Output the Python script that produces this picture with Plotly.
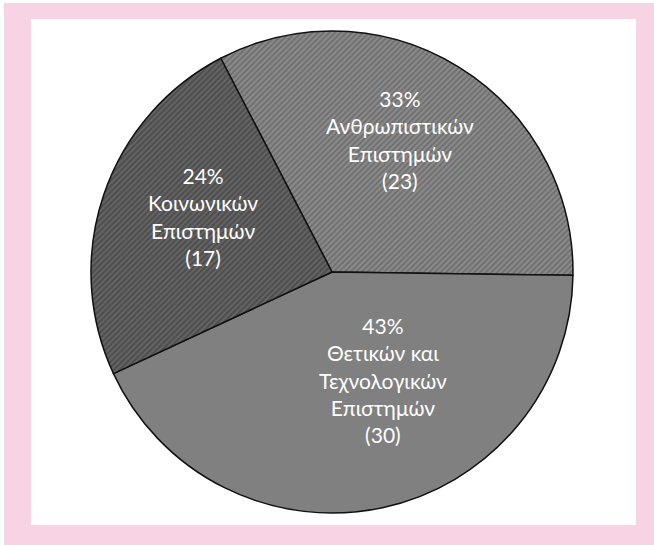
import plotly.graph_objects as go

categories = ["Ανθρωπιστικών<br>Επιστημών", "Θετικών και<br>Τεχνολογικών<br>Επιστημών", "Κοινωνικών<br>Επιστημών"]
values = [23, 30, 17]

base_colors = ["#8a8a8a", "#808080", "#4e4e4e"]
line_colors = ["#6c6c6c", "#808080", "#686868"]
shapes_pat = ["/", "", "/"]

# label anchor positions in page pixels (layout only)
label_pos = [(400, 139), (383, 380), (203, 216)]

W, H = 654, 545
total = sum(values)

fig = go.Figure(go.Pie(
    labels=categories,
    values=values,
    sort=False,
    direction="clockwise",
    rotation=-27.5,
    marker=dict(
        colors=base_colors,
        line=dict(color="#111111", width=1.5),
        pattern=dict(shape=shapes_pat, bgcolor=base_colors, fgcolor=line_colors,
                     size=4, solidity=0.4, fillmode="replace"),
    ),
    textinfo="none",
    showlegend=False,
    hoverinfo="skip",
    domain=dict(x=[(332 - 241) / W, (332 + 241) / W], y=[1 - (272 + 241) / H, 1 - (272 - 241) / H]),
))

annotations = []
for lab, v, (px, py) in zip(categories, values, label_pos):
    pct = round(100 * v / total)
    annotations.append(dict(
        text=f"{pct}%<br>{lab}<br>({v})",
        x=px / W, y=1 - py / H, xref="paper", yref="paper",
        xanchor="center", yanchor="middle", showarrow=False, align="center",
        font=dict(family="Lato", size=21, color="white"),
    ))

fig.update_layout(
    width=W, height=H,
    margin=dict(l=0, r=0, t=0, b=0),
    paper_bgcolor="white",
    plot_bgcolor="white",
    annotations=annotations,
    shapes=[
        dict(type="rect", xref="paper", yref="paper", x0=4 / W, x1=1, y0=0, y1=1 - 3 / H,
             fillcolor="#f8d3e4", line=dict(width=0), layer="below"),
        dict(type="rect", xref="paper", yref="paper", x0=31 / W, x1=636 / W,
             y0=1 - 525 / H, y1=1 - 19 / H,
             fillcolor="white", line=dict(width=0), layer="below"),
    ],
)

fig.write_html("out.html", config={"displayModeBar": False},
               post_script="document.body.style.margin='0';document.body.style.overflow='hidden';")
